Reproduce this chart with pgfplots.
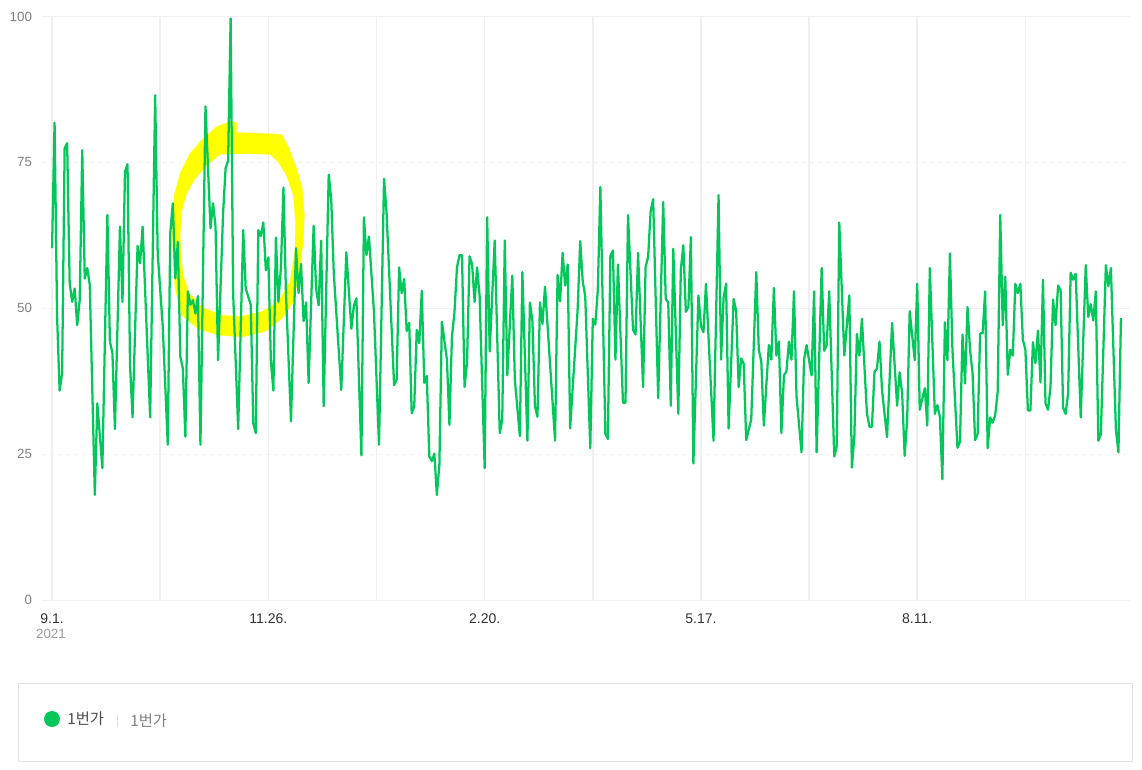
\documentclass[border=0pt]{standalone}
\usepackage{pgfplots}
\pgfplotsset{compat=1.18}
\usepackage{fontspec}
\setmainfont{Liberation Sans}
\newfontfamily\krfont{Noto Sans CJK KR}
\definecolor{linegreen}{HTML}{03C75A}
\definecolor{marker}{HTML}{FFFF00}
\definecolor{gridgray}{HTML}{F0F0F0}
\definecolor{ticktext}{HTML}{808080}
\definecolor{boxgray}{HTML}{E3E3E3}
\begin{document}
\begin{tikzpicture}[x=0.75pt,y=0.75pt]
\useasboundingbox (-42,-169) rectangle (1100,600);
\begin{axis}[
  at={(0,0)}, anchor=south west, scale only axis,
  width=816pt, height=437.6pt,
  xmin=-4, xmax=428.6, ymin=0, ymax=100,
  clip=false,
  axis line style={draw=none}, tick style={draw=none},
  xtick={0,43,86,129,172,215,258,301,344,387},
  xticklabels={9.1.,,11.26.,,2.20.,,5.17.,,8.11.,},
  ytick={0,50,100},
  extra y ticks={25,75},
  extra y tick style={grid style={gridgray,dashed,line width=0.5pt}},
  xmajorgrids, ymajorgrids,
  x grid style={gridgray,line width=1.2pt},
  y grid style={gridgray,line width=0.75pt},
  yticklabel style={font=\fontsize{10}{12}\selectfont,text=ticktext,xshift=-4pt},
  xticklabel style={font=\fontsize{10.5}{12}\selectfont,text=black!80,yshift=-6.5pt},
  /pgf/number format/assume math mode=true,
]
\addplot[fill=marker,draw=marker,line width=0.2pt,forget plot] coordinates {
  (48.2,58)(47.8,63.7)(48.6,69.4)(50.9,73.1)(54.8,76.5)(60.1,79.1)(65.4,81.1)(70.7,82)
  (73.4,81.8)(73.4,80.1)(82,80)(91.3,79.8)(93.9,77.7)(97.2,74)(99.5,70.5)(100.3,66)
  (99.9,61.4)(97.9,55.1)(95.9,51.1)(91.3,48.2)(84.6,46)(75.4,45.1)(66.1,45.4)(58.1,46.5)
  (51.5,48.8)(48.9,53.4)(48.2,58)
  (51.3,58.5)(52.2,55.7)(54.2,52.8)(59.5,50.2)(67.4,48.8)(75.4,48.6)(83.3,49.4)(89.9,51.1)
  (94.6,54.5)(96.6,60.2)(96.8,64.8)(95.9,69.4)(93.2,72.8)(89.9,75.1)(86.6,76.4)(76.7,76.5)
  (66.8,76.4)(61.5,74.5)(56.8,72.2)(53.5,69.7)(51.5,66.5)(50.9,62.5)(51.3,58.5)
  (48.2,58)};
\addplot[linegreen,line width=1.7pt,line join=round] coordinates {
  (0,60.3)(1,81.8)(2,48.6)(3,35.9)(4,38.9)(5,77.4)(6,78.3)(7,54.3)(8,51.1)(9,53.4)
  (10,47.1)(11,51.4)(12,77.1)(13,55.1)(14,56.9)(15,54)(17,18)(18,33.7)(20,22.6)(22,66)
  (23,44.3)(24,42.3)(25,29.3)(27,64)(28,51.1)(29,73.4)(30,74.7)(31,40.3)(32,31.3)(34,60.7)
  (35,57.7)(36,64)(39,31.3)(41,86.5)(42,59.4)(44,47)(46,26.6)(47,62.9)(48,68)(49,55.1)
  (50,61.4)(51,41.7)(52,39.7)(53,28)(54,52.9)(55,50.6)(56,51.4)(57,49.1)(58,52.1)(59,26.6)
  (61,84.6)(63,63.7)(64,68)(65,64)(66,41.1)(68,66.3)(69,74)(70,75.3)(71,99.7)(72,52.6)
  (74,29.3)(76,63.4)(77,53.4)(79,50.6)(80,30.3)(81,28.6)(82,63.4)(83,62.4)(84,64.7)(85,56.5)
  (86,58.7)(87,41)(88,35.9)(89,62.1)(90,51.1)(91,57)(92,70.7)(93,52.6)(95,30.6)(97,60.3)
  (98,52.6)(99,57.6)(100,47.8)(101,51)(102,37.2)(104,64.1)(105,53.3)(106,50.5)(107,61.6)(108,33.2)
  (110,72.9)(111,68.7)(112,56.1)(115,36)(117,59.6)(119,46.5)(120,50.4)(121,51.7)(123,24.8)(124,65.6)
  (125,59.1)(126,62.3)(128,49.3)(130,26.6)(132,72.2)(133,66.4)(136,36.8)(137,37.8)(138,57)(139,52.6)
  (140,55)(141,46.1)(142,47.5)(143,32)(144,33.2)(145,46.3)(146,44)(147,53)(148,37.2)(149,38.4)
  (150,24.6)(151,23.8)(152,25.1)(153,18)(154,23.2)(155,47.7)(157,41.2)(158,30)(159,45.2)(160,49.3)
  (161,57)(162,59.1)(163,59.1)(164,36.5)(165,40.7)(166,58.9)(167,57.6)(168,51.1)(169,57)(170,52.1)
  (172,22.6)(173,65.6)(174,42.6)(176,61.6)(178,28.6)(179,30.9)(180,61.6)(181,38.5)(183,55.6)(184,37.8)
  (186,28.1)(187,56.2)(189,27.3)(190,51)(191,47.8)(192,33.2)(193,31.4)(194,51)(195,47.3)(196,53.7)
  (200,27.3)(201,55.7)(202,51.2)(203,59.5)(204,53.9)(205,57.5)(206,29.4)(209,50)(210,61.5)(211,54.6)
  (212,52)(214,26)(215,48.2)(216,47.2)(217,53.2)(218,70.8)(220,28.5)(221,27.6)(222,59)(223,59.9)
  (224,41.2)(225,57.5)(227,33.8)(228,33.8)(229,66)(231,46.3)(232,45.5)(233,59.5)(235,36.5)(236,57.1)
  (237,58.8)(238,66.6)(239,68.7)(241,34.6)(243,68.2)(244,51.6)(245,51)(246,33.3)(247,60.2)(249,31.9)
  (250,56.6)(251,60.8)(252,49.4)(253,50.2)(254,62.2)(255,23.4)(257,52.2)(258,47)(259,45.9)(260,54.2)
  (263,27.3)(265,69.4)(266,41.2)(267,51.8)(268,54.2)(269,29.4)(271,51.6)(272,49.5)(273,36.5)(274,41.4)
  (275,40.5)(276,27.4)(278,31)(280,56.2)(281,42.9)(282,40.9)(283,29.9)(285,43.7)(286,41.2)(287,53.5)
  (288,41.9)(289,44.3)(290,28.6)(291,38.5)(292,39.2)(293,44.3)(294,41.2)(295,52.9)(296,34.9)(298,25.3)
  (299,41.2)(300,43.7)(302,38.5)(303,52.9)(304,25.3)(306,56.9)(307,42.7)(308,43.7)(309,52.9)(311,24.6)
  (312,26.3)(313,64.7)(315,41.9)(317,52.2)(318,22.7)(319,28)(320,45.6)(321,41.9)(322,48.2)(324,32)
  (325,29.7)(326,29.7)(327,39.1)(328,39.7)(329,44.3)(330,36)(332,27.9)(334,47.5)(336,33.3)(337,39)
  (338,35.4)(339,24.7)(340,30.9)(341,49.5)(343,41.1)(344,54.2)(345,32.6)(347,36.3)(348,29.9)(349,56.9)
  (351,31.9)(352,33.4)(353,31.4)(354,20.7)(355,47.6)(356,41.1)(357,59.4)(358,42.9)(360,26.1)(361,27.1)
  (362,45.5)(363,37.1)(364,50.2)(365,42.9)(366,38.9)(367,27.4)(368,28.4)(369,45.7)(370,45.7)(371,52.9)
  (372,26)(373,31.3)(374,30.4)(375,31.7)(376,35.7)(377,66)(378,47.1)(379,55.4)(380,38.6)(381,42.9)
  (382,41.9)(383,54.2)(384,52.6)(385,54.2)(386,44.6)(387,42.9)(388,32.5)(389,32.5)(390,44.2)(391,40.6)
  (392,46.2)(393,37.3)(394,54.9)(395,33.7)(396,32.6)(397,36.6)(398,51.5)(399,47.1)(400,53.9)(401,53.1)
  (402,33)(403,31.9)(404,35.4)(405,56.1)(406,54.9)(407,55.9)(409,31.3)(411,57.4)(412,48.5)(413,50.7)
  (414,47.9)(415,52.9)(416,27.3)(417,28.4)(419,57.4)(420,53.8)(421,56.9)(423,29.1)(424,25.3)(425,48.3)};
\end{axis}
\node[font=\fontsize{10}{12}\selectfont,text=ticktext!80] at (9,-34) {2021};
\draw[boxgray,line width=0.75pt] (-23,-161) rectangle (1090,-83);
\fill[linegreen] (10,-119) circle (8);
\node[anchor=west,inner sep=0pt,font=\krfont\fontsize{11.5}{13}\selectfont,text=black!70] at (25,-119) {1번가};
\draw[boxgray,line width=0.75pt] (75,-115) -- (75,-127);
\node[anchor=west,inner sep=0pt,font=\krfont\fontsize{11.5}{13}\selectfont,text=ticktext] at (88,-121) {1번가};
\end{tikzpicture}
\end{document}
